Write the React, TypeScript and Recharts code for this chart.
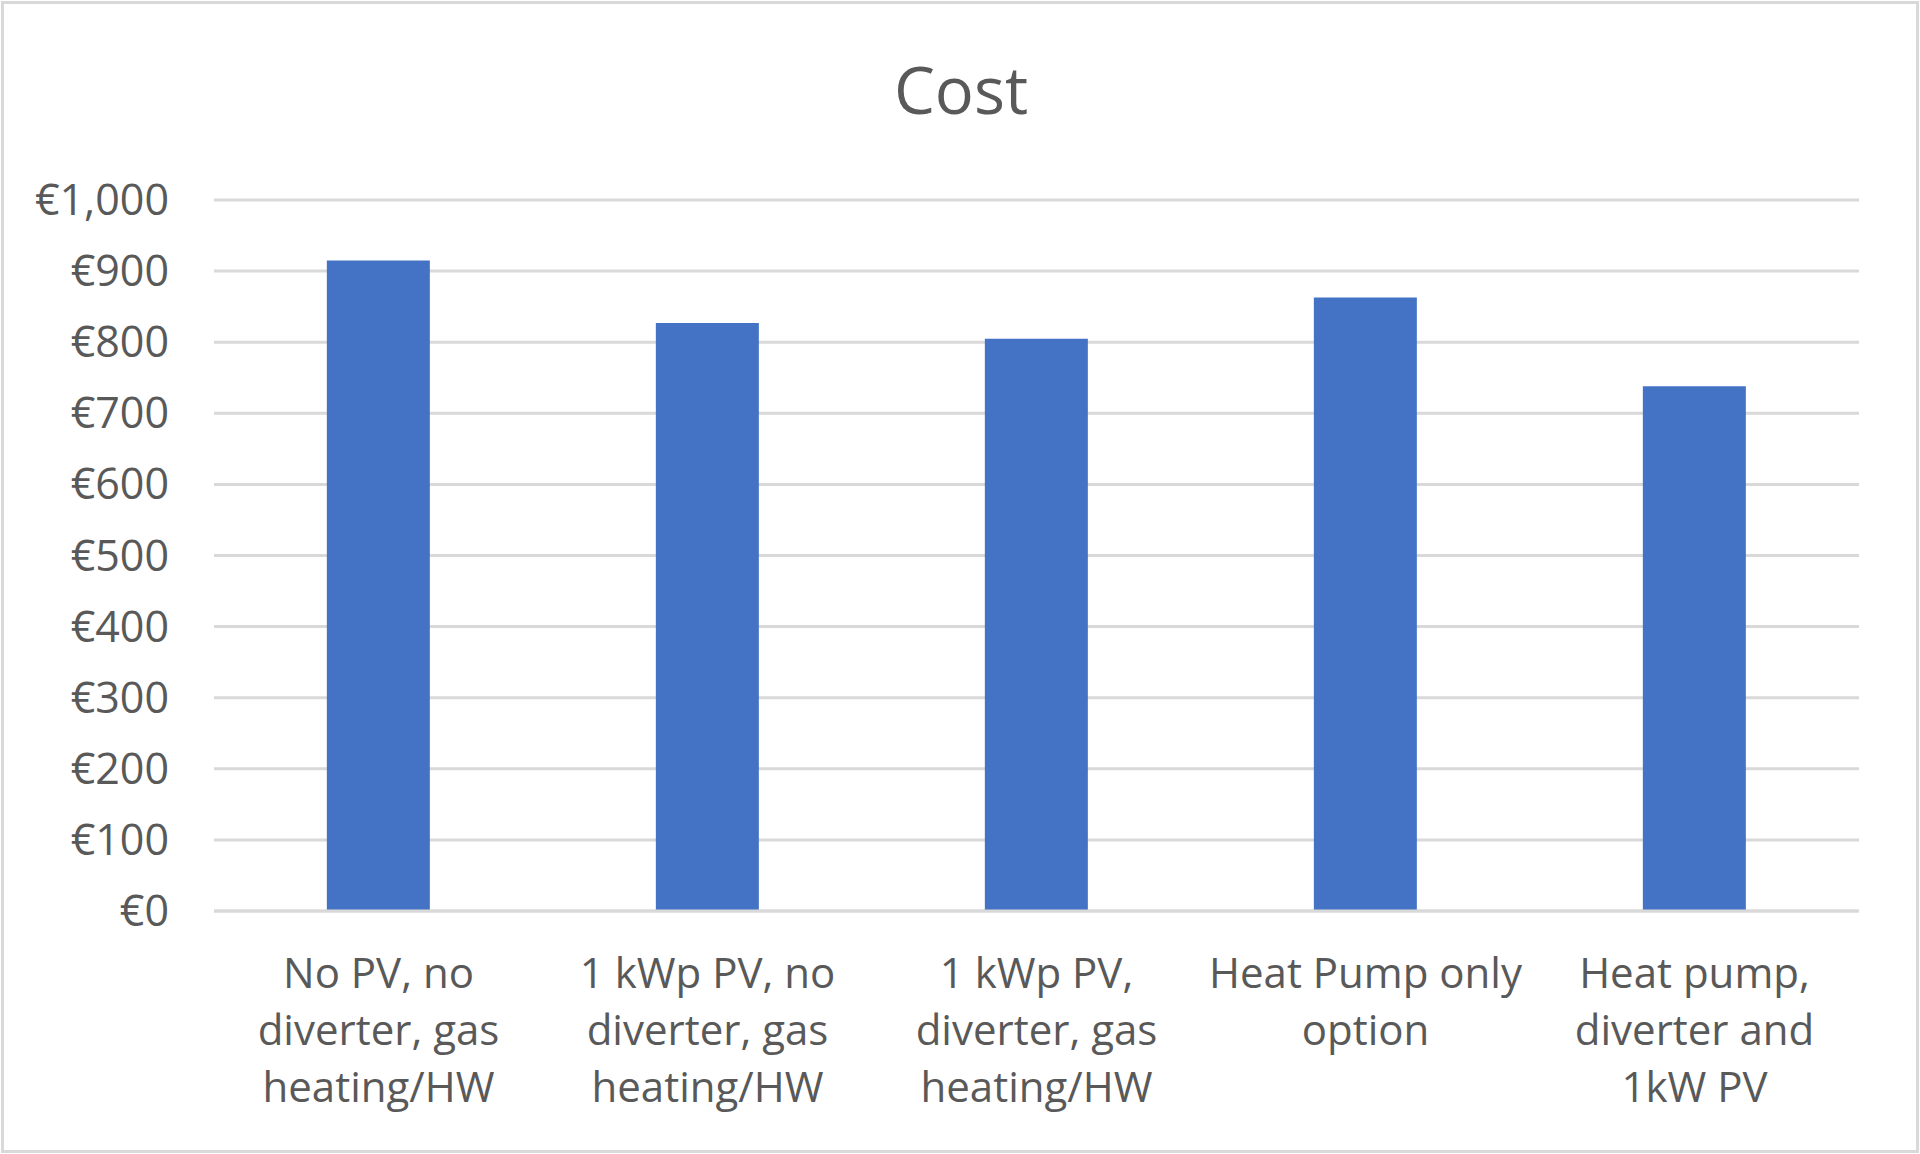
import React from "react";
import { Bar, BarChart, CartesianGrid, XAxis, YAxis } from "recharts";

const scenarios = [
  "No PV, no diverter, gas heating/HW",
  "1 kWp PV, no diverter, gas heating/HW",
  "1 kWp PV, diverter, gas heating/HW",
  "Heat Pump only option",
  "Heat pump, diverter and 1kW PV",
];

// how Excel wrapped each category label
const scenarioLines = [
  ["No PV, no", "diverter, gas", "heating/HW"],
  ["1 kWp PV, no", "diverter, gas", "heating/HW"],
  ["1 kWp PV,", "diverter, gas", "heating/HW"],
  ["Heat Pump only", "option"],
  ["Heat pump,", "diverter and", "1kW PV"],
];

const costs = [915, 827, 805, 863, 738];

const costTicks = [0, 100, 200, 300, 400, 500, 600, 700, 800, 900, 1000];

const data = scenarios.map((name, i) => ({ name, lines: scenarioLines[i], cost: costs[i] }));

const textColor = "#595959";
const gridColor = "#d9d9d9";
const fontFamily = "'Open Sans', Carlito, Calibri, sans-serif";

function euro(value: number) {
  return `€${value.toLocaleString("en-US")}`;
}

function CategoryTick(props: any) {
  const { x, y, index } = props;
  const lines = scenarioLines[index] ?? [];
  return (
    <text fill={textColor} fontFamily={fontFamily} fontSize={42} textAnchor="middle" x={x} y={y}>
      {lines.map((line: string, i: number) => (
        <tspan dy={i === 0 ? 77 : 57} key={line} x={x}>
          {line}
        </tspan>
      ))}
    </text>
  );
}

function CostTick(props: any) {
  const { x, y, payload } = props;
  return (
    <text dy={15} fill={textColor} fontFamily={fontFamily} fontSize={43} textAnchor="end" x={x} y={y}>
      {euro(payload.value)}
    </text>
  );
}

export default function App() {
  return (
    <div style={{ position: "absolute", left: 0, top: 0, width: 1920, height: 1154, background: "#fff" }}>
      <BarChart
        barCategoryGap="34.3%"
        data={data}
        height={1154}
        margin={{ top: 200, right: 61, bottom: 0, left: 0 }}
        width={1920}
      >
        <CartesianGrid horizontal stroke={gridColor} strokeWidth={3} vertical={false} />
        <XAxis
          axisLine={{ stroke: gridColor, strokeWidth: 3 }}
          dataKey="name"
          height={243}
          interval={0}
          tick={<CategoryTick />}
          tickLine={false}
          tickMargin={0}
          tickSize={0}
        />
        <YAxis
          axisLine={false}
          domain={[0, 1000]}
          tick={<CostTick />}
          tickLine={false}
          tickMargin={45}
          tickSize={0}
          ticks={costTicks}
          width={214}
        />
        <Bar dataKey="cost" fill="#4472C4" isAnimationActive={false} />
      </BarChart>
      <svg height={1154} style={{ position: "absolute", left: 0, top: 0, pointerEvents: "none" }} width={1920}>
        <text fill={textColor} fontFamily={fontFamily} fontSize={65} textAnchor="middle" x={961} y={114}>
          Cost
        </text>
      </svg>
      <div
        style={{
          position: "absolute",
          left: 1,
          top: 1,
          width: 1918,
          height: 1152,
          border: `3px solid ${gridColor}`,
          boxSizing: "border-box",
          pointerEvents: "none",
        }}
      />
    </div>
  );
}
